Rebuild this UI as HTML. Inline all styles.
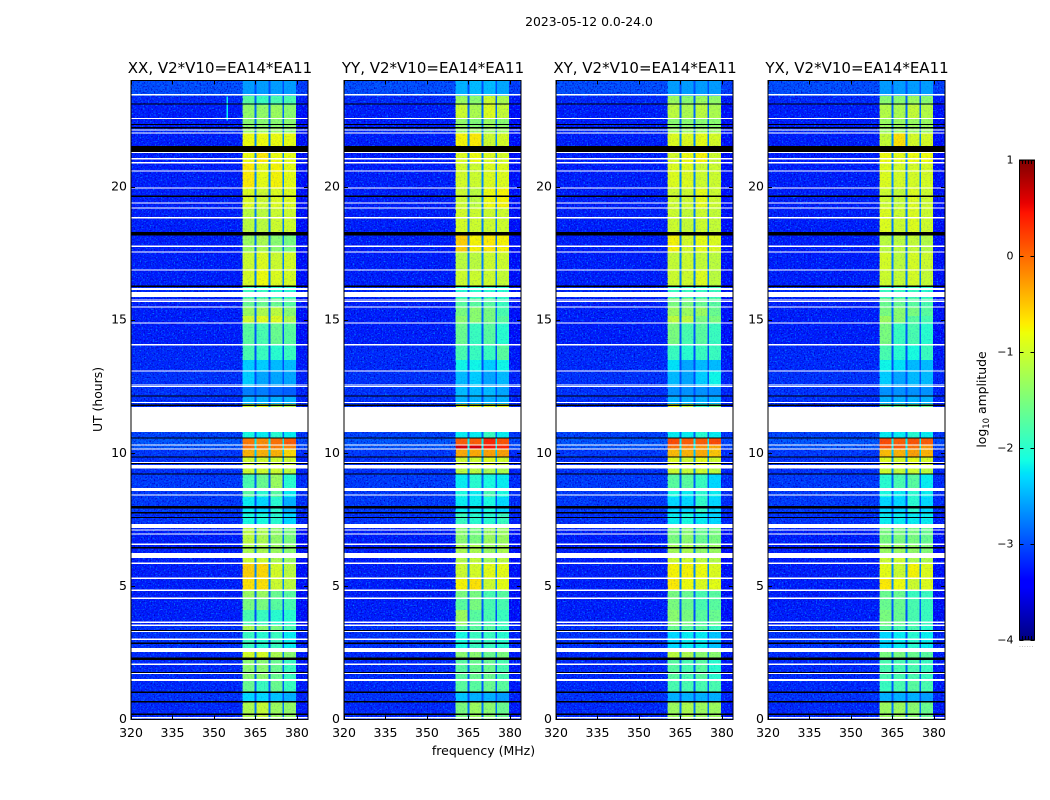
<!DOCTYPE html>
<html lang="en">
<head>
<meta charset="utf-8">
<title>2023-05-12 waterfall</title>
<style>
html,body{margin:0;padding:0;background:#fff;}
svg{display:block;font-family:"DejaVu Sans","Liberation Sans",sans-serif;fill:#000;}
</style>
</head>
<body>
<svg id="chart" xmlns="http://www.w3.org/2000/svg" width="1050" height="800" viewBox="0 0 1050 800">
  <defs>
    <filter id="grainLight" x="0" y="0" width="1" height="1" color-interpolation-filters="sRGB">
      <feTurbulence type="fractalNoise" baseFrequency="0.62 0.75" numOctaves="1" seed="4"/>
      <feColorMatrix values="0 0 0 0 0  0 0 0 0 0.5  0 0 0 0 1  3.6 0 0 0 -1.85"/>
    </filter>
    <filter id="grainDark" x="0" y="0" width="1" height="1" color-interpolation-filters="sRGB">
      <feTurbulence type="fractalNoise" baseFrequency="0.7 0.66" numOctaves="1" seed="11"/>
      <feColorMatrix values="0 0 0 0 0  0 0 0 0 0  0 0 0 0 0.75  0 3.6 0 0 -1.85"/>
    </filter>
  </defs>
  <rect x="0" y="0" width="1050" height="800" fill="#fff"/>
  <text x="589" y="26" font-size="12.4" text-anchor="middle">2023-05-12 0.0-24.0</text>
  <text x="220" y="73" font-size="15" text-anchor="middle">XX, V2*V10=EA14*EA11</text>
  <text x="433" y="73" font-size="15" text-anchor="middle">YY, V2*V10=EA14*EA11</text>
  <text x="645" y="73" font-size="15" text-anchor="middle">XY, V2*V10=EA14*EA11</text>
  <text x="857" y="73" font-size="15" text-anchor="middle">YX, V2*V10=EA14*EA11</text>
  <text transform="translate(102 399.5) rotate(-90)" font-size="12.4" text-anchor="middle">UT (hours)</text>
  <text x="483.5" y="755" font-size="12.5" text-anchor="middle">frequency (MHz)</text>
  <text transform="translate(986 399.5) rotate(-90)" font-size="12.4" text-anchor="middle">log<tspan font-size="8.5" dy="3">10</tspan><tspan dy="-3"> amplitude</tspan></text>
  <g id="panels"></g>
  <g id="colorbar"></g>
  <text x="1026.5" y="647" font-size="6" fill="#888" text-anchor="middle" letter-spacing="0.6">......</text>
</svg>
<script>
/* Time rows: upper edge of each row in UT hours */
const rowEndHours = [0.69,1.0,1.48,2.31,2.54,2.69,3.32,3.51,4.11,4.56,4.86,5.31,5.88,6.07,6.59,7.15,7.34,7.79,8.36,8.58,9.22,9.45,9.86,10.16,10.31,10.57,10.80,11.74,11.85,12.11,12.53,13.09,13.50,14.07,14.89,15.16,15.49,15.83,16.24,16.88,17.56,18.16,18.31,19.21,19.96,20.90,21.31,21.54,22.03,22.22,22.59,23.08,23.42,24];

/* Frequency groups (MHz edges) and the role each group plays */
const channelEdges = [320,360.4,364.7,365.3,369.8,370.4,374.7,375.3,379.7,384];
const channelRoles = ['bg','s0','dip','s1','dip','s2','dip','s3','bgr'];

/* log10 amplitude per row outside the band, and in the gaps between subbands */
const bgLevels = [-3.2,-3.15,-3.2,-3.2,-3.2,-3.2,-3.15,-3.15,-3.25,-3.25,-3.25,-3.25,-3.25,-3.25,-3.25,-3.25,-3.2,-3.15,-3.1,-3.1,-3.1,-3.15,-3.15,-3.1,-2.95,-2.95,-3.05,-3.05,-3.15,-3.15,-3.15,-3.15,-3.2,-3.2,-3.25,-3.25,-3.25,-3.25,-3.2,-3.25,-3.25,-3.25,-3.25,-3.25,-3.25,-3.25,-3.25,-3.25,-3.25,-3.2,-3.25,-3.25,-3.2,-3.0];
const dipLevels = [-2.8,-3.0,-2.95,-2.9,-2.75,-2.75,-3.0,-2.85,-3.0,-2.9,-2.85,-2.7,-2.7,-2.75,-2.75,-2.8,-2.8,-3.0,-3.0,-3.0,-2.9,-2.7,-2.7,-2.4,-2.2,-2.2,-2.9,-2.9,-2.6,-3.0,-3.0,-3.0,-3.0,-3.0,-2.95,-2.85,-2.85,-2.9,-2.9,-2.75,-2.75,-2.8,-2.8,-2.75,-2.75,-2.7,-2.7,-2.7,-2.7,-2.8,-2.85,-2.85,-2.9,-3.0];

/* log10 amplitude per row in the four subbands of each correlation */
const xxLevels = [[-1.2,-1.05,-1.3,-1.35],[-2.3,-2.3,-2.4,-2.5],[-1.6,-1.9,-1.6,-1.9],[-1.4,-1.4,-1.6,-1.9],[-.95,-.95,-1.2,-1.4],[-.95,-.95,-1.2,-1.4],[-1.9,-2,-1.9,-2.2],[-1.2,-1.4,-1.5,-1.8],[-1.8,-1.9,-2,-2],[-1.5,-1.5,-1.7,-1.8],[-1.3,-1.3,-1.6,-1.7],[-.65,-.65,-1,-1.1],[-.55,-.6,-.95,-1.1],[-1,-1,-1.2,-1.3],[-1.2,-1.2,-1.3,-1.4],[-1.1,-1.2,-1.35,-1.5],[-1.1,-1.2,-1.35,-1.5],[-2.1,-2.1,-2,-2.3],[-2.2,-2.3,-2,-2.5],[-1.7,-2,-1.7,-2.2],[-1.8,-1.6,-1.3,-2],[-1,-1,-1,-1.1],[-1,-1,-1,-1],[-.4,-.4,-.4,-.6],[-.05,-.1,-.1,-.15],[-.1,-.2,-.05,.05],[-2.1,-2.2,-2,-2.2],[-2.1,-2.2,-2,-2.2],[-1,-.9,-1.2,-1.2],[-2.5,-2.5,-2.5,-2.5],[-2.75,-2.75,-2.85,-2.9],[-2.35,-2.55,-2.55,-2.55],[-2.35,-2.35,-2.45,-2.45],[-1.8,-1.9,-2,-1.9],[-1.7,-1.8,-1.6,-1.7],[-1,-.9,-.9,-1.2],[-1.3,-1.2,-1.1,-1.4],[-1.6,-1.6,-1.6,-1.7],[-1.9,-1.9,-2,-2],[-.95,-.8,-.9,-.95],[-1,-.9,-1,-.95],[-1.3,-1.2,-1.4,-1.5],[-1.3,-1.2,-1.4,-1.5],[-1.1,-1.1,-1,-1],[-.9,-1,-.9,-.9],[-.7,-.85,-.75,-.85],[-.8,-.7,-.8,-.85],[-.8,-.7,-.8,-.85],[-.8,-.8,-.8,-.85],[-1.3,-1.3,-1.3,-1.4],[-1.4,-1.4,-1.4,-1.4],[-1.35,-1.35,-1.3,-1.4],[-1.7,-1.9,-1.8,-1.8],[-2.6,-2.6,-2.6,-2.6]];
const yyLevels = [[-1.5,-1.3,-1.4,-1.6],[-2.4,-2.5,-2.5,-2.6],[-1.7,-1.7,-1.6,-1.7],[-1.7,-1.6,-1.6,-1.8],[-1.4,-1.4,-1.6,-1.5],[-1.4,-1.4,-1.6,-1.5],[-2.1,-1.9,-1.9,-2],[-1.7,-1.7,-1.7,-1.9],[-1.3,-1.7,-1.8,-1.9],[-1.7,-1.5,-1.8,-1.8],[-1.5,-1.5,-1.8,-1.7],[-.75,-.65,-1,-.85],[-1,-.95,-.85,-.85],[-1.15,-1.05,-1.25,-1.1],[-1.2,-1.2,-1.3,-1.2],[-1.4,-1.5,-1.3,-1.3],[-1.4,-1.5,-1.3,-1.3],[-1.9,-2,-2,-1.9],[-2.2,-2.2,-2.1,-2.3],[-2.1,-2.2,-1.8,-2.1],[-2.2,-2,-2.1,-2.2],[-1.1,-1.1,-1.2,-1.2],[-1,-1,-.9,-1],[-.35,-.35,-.3,-.3],[.6,.6,.45,.35],[.05,.05,.35,.1],[-2.2,-2.2,-1.9,-2.2],[-2.2,-2.2,-1.9,-2.2],[-.9,-.9,-.9,-.9],[-2.5,-2.5,-2.5,-2.5],[-2.45,-2.45,-2.45,-2.55],[-2.45,-2.35,-2.55,-2.45],[-2.15,-2.15,-2.35,-2.15],[-1.8,-1.9,-1.9,-1.7],[-1.6,-1.9,-1.7,-2],[-1.4,-1.4,-1.5,-1.7],[-1.5,-1.4,-1.5,-1.8],[-1.7,-1.7,-1.7,-1.9],[-2,-2,-2,-2],[-1,-1,-1,-1.05],[-1.1,-1.1,-1,-1],[-.55,-.75,-.7,-.75],[-.55,-.75,-.7,-.75],[-.95,-1,-1,-1],[-1,-1.1,-.8,-.75],[-.95,-1,-.9,-.9],[-.9,-.8,-.9,-.95],[-.9,-.8,-.9,-.95],[-.75,-.7,-1,-.95],[-1.3,-1.3,-1.3,-1.3],[-1.35,-1.45,-1.3,-1.4],[-1,-1.2,-.9,-1.05],[-1.3,-1.4,-1,-1.2],[-2.5,-2.45,-2.45,-2.55]];
const xyLevels = [[-1.3,-1.2,-1.3,-1.3],[-2.5,-2.5,-2.5,-2.5],[-1.8,-1.8,-1.8,-1.8],[-1.7,-1.8,-1.7,-2],[-1.1,-1.2,-1.4,-1.4],[-1.1,-1.2,-1.4,-1.4],[-2.3,-2.2,-2.2,-2.4],[-1.6,-1.7,-1.7,-1.9],[-1.4,-1.5,-1.7,-1.6],[-1.5,-1.6,-1.8,-1.7],[-1.5,-1.6,-1.8,-1.7],[-.7,-.8,-.9,-.85],[-.75,-.75,-.8,-.9],[-1,-1,-1.1,-1.15],[-1.25,-1.2,-1.35,-1.3],[-1.5,-1.4,-1.6,-1.5],[-1.5,-1.4,-1.6,-1.5],[-2.2,-2.1,-2.2,-2.3],[-2.3,-2.3,-1.95,-2.3],[-2.1,-2.2,-2,-2.2],[-1.7,-1.7,-1.9,-2.3],[-1,-1.05,-1,-1.1],[-.9,-1,-.85,-1],[-.45,-.4,-.35,-.5],[-.05,-.15,-.25,-.35],[.15,.05,.05,.15],[-2.2,-2.2,-2,-2.2],[-2.2,-2.2,-2,-2.2],[-.85,-1.1,-1.9,-1.5],[-2.5,-2.5,-2.5,-2.5],[-2.65,-2.65,-2.65,-2.65],[-2.45,-2.55,-2.35,-2.15],[-2.25,-2.55,-2.45,-2.45],[-1.9,-2,-1.9,-1.9],[-1.5,-1.8,-1.7,-1.9],[-1.1,-1.1,-1.5,-1.5],[-1.3,-1.3,-1.3,-1.6],[-1.5,-1.5,-1.6,-1.7],[-1.9,-1.9,-1.9,-1.9],[-1,-1,-.9,-1.1],[-1.05,-1,-1.05,-1.1],[-.75,-.95,-.85,-.9],[-.75,-.95,-.85,-.9],[-1,-1.05,-1,-1.05],[-1,-1,-.85,-1],[-.9,-.9,-1,-1],[-.95,-.8,-.75,-1],[-.95,-.8,-.75,-1],[-.9,-.9,-.85,-.95],[-1.3,-1.3,-1.3,-1.3],[-1.4,-1.4,-1.4,-1.4],[-1.1,-1.2,-1.1,-1.2],[-1.3,-1.4,-1.3,-1.35],[-2.6,-2.6,-2.6,-2.6]];
const yxLevels = [[-1.3,-1.3,-1.4,-1.6],[-2.5,-2.5,-2.5,-2.6],[-1.9,-1.8,-1.7,-1.8],[-1.8,-1.8,-1.8,-1.9],[-1.5,-1.5,-1.6,-1.7],[-1.5,-1.5,-1.6,-1.7],[-2.3,-2.2,-2,-2.2],[-1.7,-1.8,-1.8,-2],[-1.5,-1.6,-1.8,-1.9],[-1.6,-1.6,-1.8,-1.9],[-1.6,-1.6,-1.9,-1.9],[-.7,-.8,-1,-.9],[-.85,-1,-.75,-.9],[-1,-1,-1.2,-1.2],[-1.3,-1.3,-1.35,-1.45],[-1.5,-1.5,-1.5,-1.6],[-1.5,-1.5,-1.5,-1.6],[-2.2,-2.2,-2.2,-2.2],[-2.3,-2.3,-2,-2.3],[-2.1,-2.2,-2,-2.2],[-2,-1.8,-1.7,-2.2],[-1,-1.05,-1,-1.1],[-.9,-.95,-.85,-.95],[-.45,-.4,-.3,-.4],[.1,.1,-.05,-.25],[.15,.05,.1,.05],[-2.2,-2.2,-2,-2.2],[-2.2,-2.2,-2,-2.2],[-1.6,-1.6,-1.6,-1.6],[-2.5,-2.5,-2.5,-2.5],[-2.65,-2.65,-2.65,-2.65],[-2.35,-2.55,-2.45,-2.45],[-2.15,-2.25,-2.45,-2.45],[-1.8,-2,-2.1,-1.9],[-1.5,-1.9,-1.8,-2],[-1.3,-1.4,-1.7,-1.8],[-1.5,-1.4,-1.5,-1.7],[-1.6,-1.6,-1.7,-1.8],[-1.9,-1.9,-1.9,-2],[-1,-1.05,-.95,-1.05],[-.95,-1.1,-.95,-1],[-1.1,-1.1,-1.05,-1.15],[-1.1,-1.1,-1.05,-1.15],[-.9,-1,-.9,-1],[-1,-1.05,-.9,-1],[-.9,-.95,-.95,-.95],[-.8,-.85,-.8,-.8],[-.8,-.85,-.8,-.8],[-1.05,-.65,-.95,-.95],[-1.3,-1.3,-1.3,-1.3],[-1.3,-1.3,-1.3,-1.3],[-1.15,-1.2,-1.05,-1.15],[-1.4,-1.4,-1.3,-1.4],[-2.6,-2.6,-2.6,-2.6]];

/* Flagged integrations, common to all panels: centre hour and span in hours */
const whiteFlagHours = [23.46,22.57,22.14,22.03,21.31,21.06,20.91,20.60,19.96,19.40,19.21,18.84,17.78,17.56,16.88,16.17,15.96,15.76,15.70,15.49,14.89,14.07,13.09,12.56,12.51,11.91,11.27,10.31,10.16,9.65,9.50,8.64,8.43,7.27,7.11,6.97,6.58,6.16,5.87,5.30,4.86,4.55,3.65,3.54,3.31,3.01,2.61,2.07,1.73,1.48,0.07];
const whiteFlagSpans = [.05,.05,.05,.05,.05,.05,.05,.05,.05,.05,.05,.05,.05,.05,.05,.08,.19,.04,.04,.05,.05,.05,.05,.04,.04,.04,.94,.05,.05,.05,.13,.11,.05,.15,.04,.05,.05,.17,.05,.05,.05,.05,.05,.05,.04,.05,.15,.05,.05,.08,.05];
const blackFlagHours = [23.12,22.35,22.22,21.43,19.66,18.25,16.27,12.15,11.80,10.57,9.86,9.61,9.22,7.97,7.77,7.59,6.45,3.34,2.86,2.28,1.77,1.02,0.67,0.2];
const blackFlagSpans = [.05,.05,.06,.22,.06,.13,.05,.05,.05,.05,.05,.04,.05,.08,.05,.05,.05,.04,.05,.08,.04,.05,.05,.05];

/* Isolated interference seen in the panels: panel, freq MHz, hour range, log10 amplitude */
const rfiPanels = [0,0,1,2];
const rfiFreqs = [354.5,344.3,343.8,344.3];
const rfiStartHours = [22.5,19.94,19.94,19.94];
const rfiEndHours = [23.4,19.99,19.99,19.99];
const rfiLevels = [-2.2,-1.6,-1.6,-1.6];

/* Axis ticks */
const xTicks = [320,335,350,365,380];
const yTicks = [0,5,10,15,20];
const colorTicks = [1,0,-1,-2,-3,-4];
const colorTickLabels = ['1','0','\u22121','\u22122','\u22123','\u22124'];

const panelNames = ['xx','yy','xy','yx'];
const panelLevels = [xxLevels,yyLevels,xyLevels,yxLevels];
const panelLeft = [131,344,556,768];
const panelWidth = 177;
const plotTop = 80.5, plotBottom = 719.5;
const freqMin = 320, freqMax = 384, hourMin = 0, hourMax = 24;
const levelMin = -4, levelMax = 1;
const cbX = 1019.5, cbW = 15, cbTop = 160, cbBottom = 640;
const NS = 'http://www.w3.org/2000/svg';

function xScale(p, f){ return panelLeft[p] + (f - freqMin) / (freqMax - freqMin) * panelWidth; }
function yScale(h){ return plotBottom - (h - hourMin) / (hourMax - hourMin) * (plotBottom - plotTop); }
function cbScale(v){ return cbBottom - (v - levelMin) / (levelMax - levelMin) * (cbBottom - cbTop); }

function ramp(t, pts){
  for (let i = 1; i < pts.length; i++) {
    if (t <= pts[i][0]) {
      const a = pts[i-1], b = pts[i];
      return a[1] + (b[1]-a[1]) * (t-a[0]) / (b[0]-a[0]);
    }
  }
  return pts[pts.length-1][1];
}
const jetR = [[0,0],[.35,0],[.66,1],[.89,1],[1,.5]];
const jetG = [[0,0],[.125,0],[.375,1],[.64,1],[.91,0],[1,0]];
const jetB = [[0,.5],[.11,1],[.34,1],[.65,0],[1,0]];
function jet(v){
  const t = Math.max(0, Math.min(1, (v - levelMin) / (levelMax - levelMin)));
  const c = s => Math.round(255 * ramp(t, s));
  return 'rgb(' + c(jetR) + ',' + c(jetG) + ',' + c(jetB) + ')';
}

function mk(parent, tag, attrs){
  const el = document.createElementNS(NS, tag);
  for (const k in attrs) el.setAttribute(k, attrs[k]);
  parent.appendChild(el);
  return el;
}

function levelFor(p, row, role){
  if (role === 'bg') return bgLevels[row];
  if (role === 'bgr') return bgLevels[row] - 0.08;
  if (role === 'dip') return dipLevels[row];
  return panelLevels[p][row][+role.slice(1)];
}

const panelsRoot = document.getElementById('panels');
panelNames.forEach(function(name, p){
  const g = mk(panelsRoot, 'g', {});
  
  

  const cells = mk(g, 'g', {'shape-rendering':'crispEdges'});
  
  
  rowEndHours.forEach(function(end, row){
    const start = row === 0 ? hourMin : rowEndHours[row-1];
    channelRoles.forEach(function(role, c){
      const x0 = xScale(p, channelEdges[c]), x1 = xScale(p, channelEdges[c+1]);
      const y0 = yScale(end), y1 = yScale(start);
      const cell = mk(cells, 'rect', {x:x0, y:y0, width:x1-x0, height:y1-y0, fill:jet(levelFor(p,row,role))});
      
      
    });
  });

  const grainAreas = [[channelEdges[0],channelEdges[1],1],[channelEdges[1],channelEdges[8],0.14],[channelEdges[8],channelEdges[9],1]];
  grainAreas.forEach(function(area){
    const gx = xScale(p, area[0]), gw = xScale(p, area[1]) - gx;
    const g1 = mk(g, 'rect', {x:gx, y:plotTop, width:gw, height:plotBottom-plotTop, filter:'url(#grainLight)', opacity:area[2]});
    
    
    const g2 = mk(g, 'rect', {x:gx, y:plotTop, width:gw, height:plotBottom-plotTop, filter:'url(#grainDark)', opacity:area[2]});
    
    
  });

  rfiFreqs.forEach(function(f, i){
    if (rfiPanels[i] !== p) return;
    const y0 = yScale(rfiEndHours[i]), y1 = yScale(rfiStartHours[i]);
    const spot = mk(g, 'rect', {x:xScale(p,f), y:y0, width:1.5, height:y1-y0, fill:jet(rfiLevels[i]), 'shape-rendering':'crispEdges'});
    
    
  });

  const flags = mk(g, 'g', {'shape-rendering':'crispEdges'});
  
  
  whiteFlagHours.forEach(function(h, i){
    const s = whiteFlagSpans[i];
    const r = mk(flags, 'rect', {x:panelLeft[p], y:yScale(h + s/2), width:panelWidth, height:yScale(h - s/2)-yScale(h + s/2), fill:'#fff'});
    
    
  });
  blackFlagHours.forEach(function(h, i){
    const s = blackFlagSpans[i];
    const r = mk(flags, 'rect', {x:panelLeft[p], y:yScale(h + s/2), width:panelWidth, height:yScale(h - s/2)-yScale(h + s/2), fill:'#000'});
    
    
  });

  const frame = mk(g, 'rect', {x:panelLeft[p], y:plotTop, width:panelWidth, height:plotBottom-plotTop, fill:'none', stroke:'#000', 'stroke-width':1});
  
  

  xTicks.forEach(function(t){
    const x = Math.round(xScale(p, t)) + 0.5;
    const t1 = mk(g, 'path', {d:'M'+x+' '+plotBottom+'v-4M'+x+' '+plotTop+'v4', stroke:'#000', 'stroke-width':1, fill:'none'});
    
    
    const lab = mk(g, 'text', {x:xScale(p,t), y:737, 'font-size':12.5, 'text-anchor':'middle'});
    lab.textContent = String(t);
    
    
  });
  yTicks.forEach(function(t){
    const y = Math.round(yScale(t) - 0.5) + 0.5;
    const x0 = panelLeft[p], x1 = panelLeft[p] + panelWidth;
    const t1 = mk(g, 'path', {d:'M'+x0+' '+y+'h4M'+x1+' '+y+'h-4', stroke:'#000', 'stroke-width':1, fill:'none'});
    
    
    const lab = mk(g, 'text', {x:x0-4, y:yScale(t)+3.5, 'font-size':12.5, 'text-anchor':'end'});
    lab.textContent = String(t);
    
    
  });
});

const cb = document.getElementById('colorbar');
const cbRamp = mk(cb, 'g', {'shape-rendering':'crispEdges'});


for (let y = cbTop; y < cbBottom; y++) {
  const v = levelMin + (cbBottom - y - 0.5) / (cbBottom - cbTop) * (levelMax - levelMin);
  const strip = mk(cbRamp, 'rect', {x:cbX, y:y, width:cbW, height:1, fill:jet(v)});
  
  
}
const cbFrame = mk(cb, 'rect', {x:cbX, y:cbTop, width:cbW, height:cbBottom-cbTop, fill:'none', stroke:'#000', 'stroke-width':1});


colorTicks.forEach(function(v, i){
  const y = Math.round(cbScale(v)) + 0.5;
  const tick = mk(cb, 'path', {d:'M'+cbX+' '+y+'h4M'+(cbX+cbW)+' '+y+'h-4', stroke:'#000', 'stroke-width':1, fill:'none'});
  
  
  const lab = mk(cb, 'text', {x:1013.5, y:cbScale(v)+3.5, 'font-size':11, 'text-anchor':'end'});
  lab.textContent = colorTickLabels[i];
  
  
});
[3,6,9,12].forEach(function(dx){
  const x = cbX + dx;
  const m = mk(cb, 'path', {d:'M'+x+' '+cbTop+'v4M'+x+' '+cbBottom+'v-4', stroke:'#000', 'stroke-width':1, fill:'none'});
  
  
});
</script>
</body>
</html>
